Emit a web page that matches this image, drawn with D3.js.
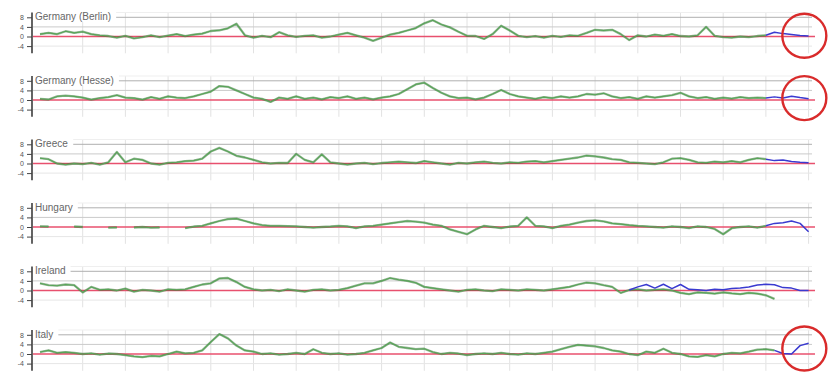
<!DOCTYPE html>
<html><head><meta charset="utf-8">
<script src="https://cdn.jsdelivr.net/npm/d3@7"></script>
<style>body{margin:0;background:#fff}svg{display:block}</style>
</head><body>
<script>
const categories = ["Germany (Berlin)", "Germany (Hesse)", "Greece", "Hungary", "Ireland", "Italy"];
const tickValues = [8, 4, 0, -4];
const tickLabels = ["8", "4", "0", "-4"];

const berlin = [1,1.5,1,2.2,1.5,2,1,0.5,0.2,-0.5, 0.3,-0.8,-0.3,0.5,-0.3,0.4,1,0.2,0.8,1.2, 2.3,2.6,3.4,5.3,0.5,-0.5,0.3,-0.3,1.8,0.5, -0.2,0.3,0.5,-0.5,0,0.8,1.5,0.5,-0.5,-1.8, -0.5,0.8,1.5,2.5,3.5,5.5,6.8,5,3.8,2, 0.3,0.2,-1,1,4.5,2.5,0.3,-0.3,0.2,-0.5, 0.3,-0.2,0.5,0.3,1.5,2.8,2.5,2.8,1,-1.5, 0.5,0,0.8,0.3,1,0.2,0,0.5,4,0.3, -0.3,-0.5,0,-0.3,0.2,0.5];
const hesse = [0.5,0.2,1.5,1.8,1.5,1,0.2,0.8,1.2,2, 1,0.8,0.2,1.2,0.5,1.5,1,0.8,1.5,2.5, 3.5,5.8,5.5,4,2.5,1,0.5,-0.8,1,0.5, 1.5,0.5,1,0.3,1.2,0.8,1.5,0.5,1,0.3, 1,1.5,2.5,4.5,6.5,7.2,5,3,1.5,0.8, 1,0.3,1,2.5,4.2,2.5,1.5,1,0.5,1.2, 0.8,1.5,1,1.5,2.5,2.2,2.8,1.5,0.8,1.2, 0.5,1.5,1,1.5,2,3,1.5,0.8,1.2,0.5, 1,0.6,1.2,0.8,1,0.8];
const greece = [2.2,1.8,0,-0.5,0,-0.3,0.3,-0.5,0.5,4.8, 0.5,2,1.5,0,-0.5,0.3,0.5,1,1.2,2, 5,6.5,5,3.2,2.5,1.5,0.5,0,0.3,0.2, 4,1.5,0.5,3.8,0.5,0,-0.5,0,0.3,-0.3, 0.2,0.5,0.8,0.5,0.2,1,0.5,0,-0.5,0.3, 0,0.5,0.8,0.3,0,0.5,0.3,0.8,1,0.5, 1,1.5,2,2.5,3.3,3,2.5,1.8,1.5,0.5, 0.3,0,-0.3,0.5,2,2.2,1.5,0.5,0.3,0.8, 0.5,1,0.5,1.5,2.2,1.8];
const hungary = [0.3,0.2,null,null,0.2,0,null,null,-0.3,-0.2, null,-0.2,0,-0.3,-0.2,null,null,-0.5,0.2,0.5, 1.5,2.5,3.3,3.5,2.5,1.5,0.8,0.5,0.5,0.4, 0.3,0,-0.3,0,0.2,0.5,0.3,-0.5,0.3,0.5, 1,1.5,2,2.5,2.2,1.8,1,0.5,-1,-2, -3,-1,0.5,0,-0.5,0.2,0.5,4,0.5,0.3, -0.5,0.5,1,1.8,2.5,2.8,2.3,1.5,1.2,0.8, 0.5,0.3,0,-0.3,0.3,0,-0.5,0.3,0,-0.8, -3,-0.5,0,0.3,-0.3,0.5];
const ireland = [3,2.2,2,2.5,2.2,-0.8,1.5,0.3,0.5,0, 0.8,-0.5,0.3,0,-0.5,0.5,0.3,0.5,1.5,2.5, 3,5,5.2,3.5,1.5,0.5,0,0.3,-0.3,0.5, 0,-0.5,0.3,0.5,0,0.3,1,2,3,3, 4,5.2,4.5,4,3.2,1.5,1,0.5,0,-0.5, 0.3,0.5,0,-0.3,0.5,0.3,0,0.5,0.3,0, 0.5,1,1.5,2.5,3.3,3,2.2,1.5,-1,0.2, 0.5,0,0.3,0.5,0,-1,-1.5,-0.8,-1,-1.3, -0.8,-1.2,-1.5,-1,-1.3,-2,-3.5];
const italy = [0.8,1.5,0.5,0.8,0.5,0,0.3,-0.3,0.2,0, -0.5,-1,-1.3,-0.8,-1,0,1,0.3,0.5,1.5, 5,8.3,6.5,3.5,1.5,1,0,0.3,-0.3,0, 0.5,0,2,0.5,0,0.3,-0.3,0,0.5,1.5, 2.5,4.8,3,2.5,2,2.2,0.8,0,0.5,0.2, -0.5,0,0.3,0,0.5,0,-0.3,0.3,0,0.5, 1,2,3,3.8,3.5,3.2,2.5,1.5,1,0, -0.5,1,0.5,2.2,0.5,0,-1,-1.2,-0.5,-1, 0,0.5,0.3,1,1.8,2,1.5];
const greenSeries = [berlin, hesse, greece, hungary, ireland, italy];

const blueStart = [85, 85, 85, 85, 69, 86];
const blueSeries = [
  [0.5,1.8,1.2,0.8,0.4,0.2],
  [0.8,1.3,0.8,1.6,1,0.5],
  [1.8,1.2,1.5,0.8,0.5,0.3],
  [0.5,1.5,1.8,2.5,1.5,-2],
  [0.2,1.5,2.5,1,2.6,0.8,2.5,0.5,0.3,0,0.5,0.3,0.8,1,1.5,2.3,2.6,2.4,1.2,1,0,0],
  [1.5,0.2,0,3.5,4.5]
];
// value at which each highlight circle is centred (null = no circle)
const circleAt = [0.3, 0.8, null, null, null, 2.3];

const W = 828, H = 376;
const svg = d3.select("body").append("svg").attr("width", W).attr("height", H);
const x = d3.scaleLinear().domain([0, 90]).range([40, 808.6]);
const gridIdx = d3.range(5, 91, 5);

categories.forEach((name, i) => {
  const z = 36.5 + 63.5 * i;
  const y = d3.scaleLinear().domain([-7, 10]).range([z + 7 * 2.4, z - 10 * 2.4]);
  const g = svg.append("g");

  g.selectAll(".vg").data(gridIdx).join("line")
    .attr("x1", d => x(d)).attr("x2", d => x(d))
    .attr("y1", y(10)).attr("y2", y(-7))
    .attr("stroke", "#e2e2e2").attr("stroke-width", 1);

  const hg = [{v: 8, c: "#b0b0b0"}, {v: 4, c: "#cacaca"}, {v: -4, c: "#e6e6e6"}, {v: 10, c: "#efefef"}];
  g.selectAll(".hg").data(hg).join("line")
    .attr("x1", 33).attr("x2", 812)
    .attr("y1", d => y(d.v)).attr("y2", d => y(d.v))
    .attr("stroke", d => d.c).attr("stroke-width", 1);

  g.append("line").attr("x1", 33).attr("x2", 815)
    .attr("y1", y(0)).attr("y2", y(0))
    .attr("stroke", "#e8506e").attr("stroke-width", 1.3);

  const axis = d3.axisLeft(y).tickValues(tickValues)
    .tickFormat((d, k) => tickLabels[k]).tickSize(5).tickPadding(3);
  const ax = g.append("g").attr("transform", "translate(32,0)").call(axis);
  ax.select(".domain").attr("d", `M0,${y(10)}V${y(-7)}`).attr("stroke", "#222").attr("stroke-width", 1.4);
  ax.selectAll(".tick line").attr("stroke", "#444");
  ax.selectAll(".tick text").attr("font-size", 7).attr("fill", "#555")
    .attr("font-family", "Liberation Sans, Arial, sans-serif");

  const rect = g.append("rect").attr("fill", "#fff");
  const t = g.append("text").attr("x", 35).attr("y", z - 16.5)
    .attr("font-size", 10).attr("fill", "#666")
    .attr("font-family", "Liberation Sans, Arial, sans-serif").text(name);
  const bb = t.node().getBBox();
  rect.attr("x", 33).attr("y", bb.y - 1)
    .attr("width", bb.width + 7).attr("height", bb.height + 1);

  const line = d3.line().defined(d => d.v != null)
    .x(d => x(d.i)).y(d => y(d.v));

  const gdata = greenSeries[i].map((v, k) => ({i: k, v}));
  g.append("path").attr("d", line(gdata)).attr("fill", "none")
    .attr("stroke", "#2e6e2e").attr("stroke-width", 2.3).attr("stroke-opacity", 0.5)
    .attr("stroke-linejoin", "round");
  g.append("path").attr("d", line(gdata)).attr("fill", "none")
    .attr("stroke", "#58a558").attr("stroke-width", 1.1)
    .attr("stroke-linejoin", "round");

  const bdata = blueSeries[i].map((v, k) => ({i: blueStart[i] + k, v}));
  g.append("path").attr("d", line(bdata)).attr("fill", "none")
    .attr("stroke", "#3a3ad0").attr("stroke-width", 1.5)
    .attr("stroke-linejoin", "round");

  if (circleAt[i] != null) {
    g.append("circle").attr("cx", x(89.5)).attr("cy", y(circleAt[i]))
      .attr("r", 22).attr("fill", "none")
      .attr("stroke", "#d92b2b").attr("stroke-width", 2.4);
  }
});
</script>
</body></html>
